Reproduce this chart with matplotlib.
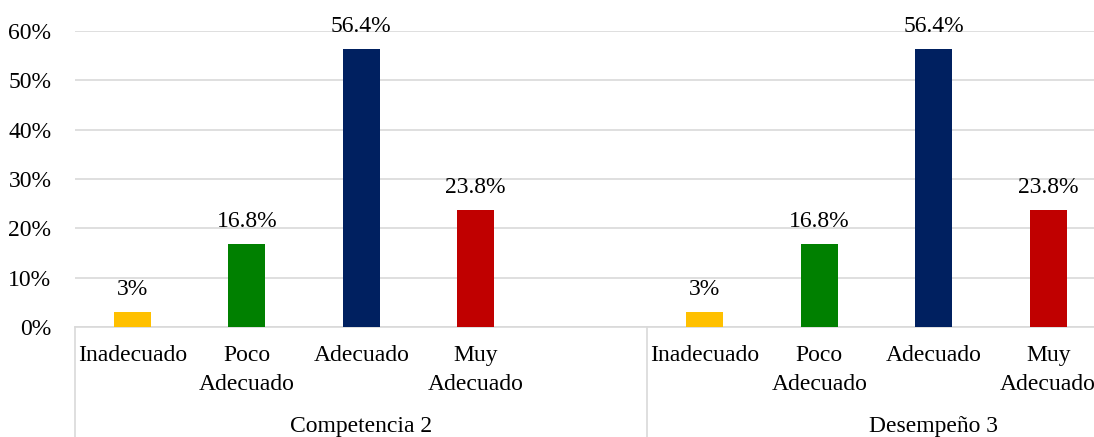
import matplotlib
matplotlib.use("Agg")
import matplotlib.pyplot as plt
import matplotlib.transforms as mtransforms

plt.rcParams['font.family'] = ['Liberation Serif', 'DejaVu Serif']

# data
groups = ["Competencia 2", "Desempeño 3"]
categories = ["Inadecuado", "Poco\nAdecuado", "Adecuado", "Muy\nAdecuado"]
values = [3.0, 16.8, 56.4, 23.8]
labels = ["3%", "16.8%", "56.4%", "23.8%"]
colors = ["#FFC000", "#008000", "#002060", "#C00000"]

slots = 5  # 4 categories + one empty slot per group
fs = 17
fig = plt.figure(figsize=(10.94, 4.37), dpi=100)
ax = fig.add_axes([75 / 1094, 110 / 437, 1 - 75 / 1094, 296 / 437])

blend = mtransforms.blended_transform_factory(ax.transData, ax.transAxes)
for g, gname in enumerate(groups):
    base = g * slots
    xs = [base + i for i in range(len(categories))]
    ax.bar(xs, values, width=0.32, color=colors, zorder=3)
    for x, v, lab, cat in zip(xs, values, labels, categories):
        ax.text(x, v + 2.4, lab, ha='center', va='bottom', fontsize=fs,
                clip_on=False)
        ax.text(x, -0.062, cat, ha='center', va='top', fontsize=fs,
                linespacing=1.45, transform=blend, clip_on=False)
    ax.text(base + (slots - 1) / 2, -0.335, gname, ha='center', va='center',
            fontsize=fs, transform=blend, clip_on=False)
    # group separators
    ax.plot([base - 0.5, base - 0.5], [0, -0.38], color='#D9D9D9', lw=1.2,
            transform=blend, clip_on=False)

ax.set_xlim(-0.5, 8.4)
ax.set_ylim(0, 60)
ax.set_yticks(range(0, 61, 10))
ax.set_yticklabels([f"{t}%" for t in range(0, 61, 10)], fontsize=fs)
ax.set_xticks([])
ax.tick_params(axis='y', length=0, pad=17)
ax.grid(axis='y', color='#D9D9D9', lw=1.2, zorder=0)
for side in ['top', 'right', 'left']:
    ax.spines[side].set_visible(False)
ax.spines['bottom'].set_color('#D9D9D9')
ax.spines['bottom'].set_linewidth(1.2)

fig.savefig("out.png", dpi=100)
